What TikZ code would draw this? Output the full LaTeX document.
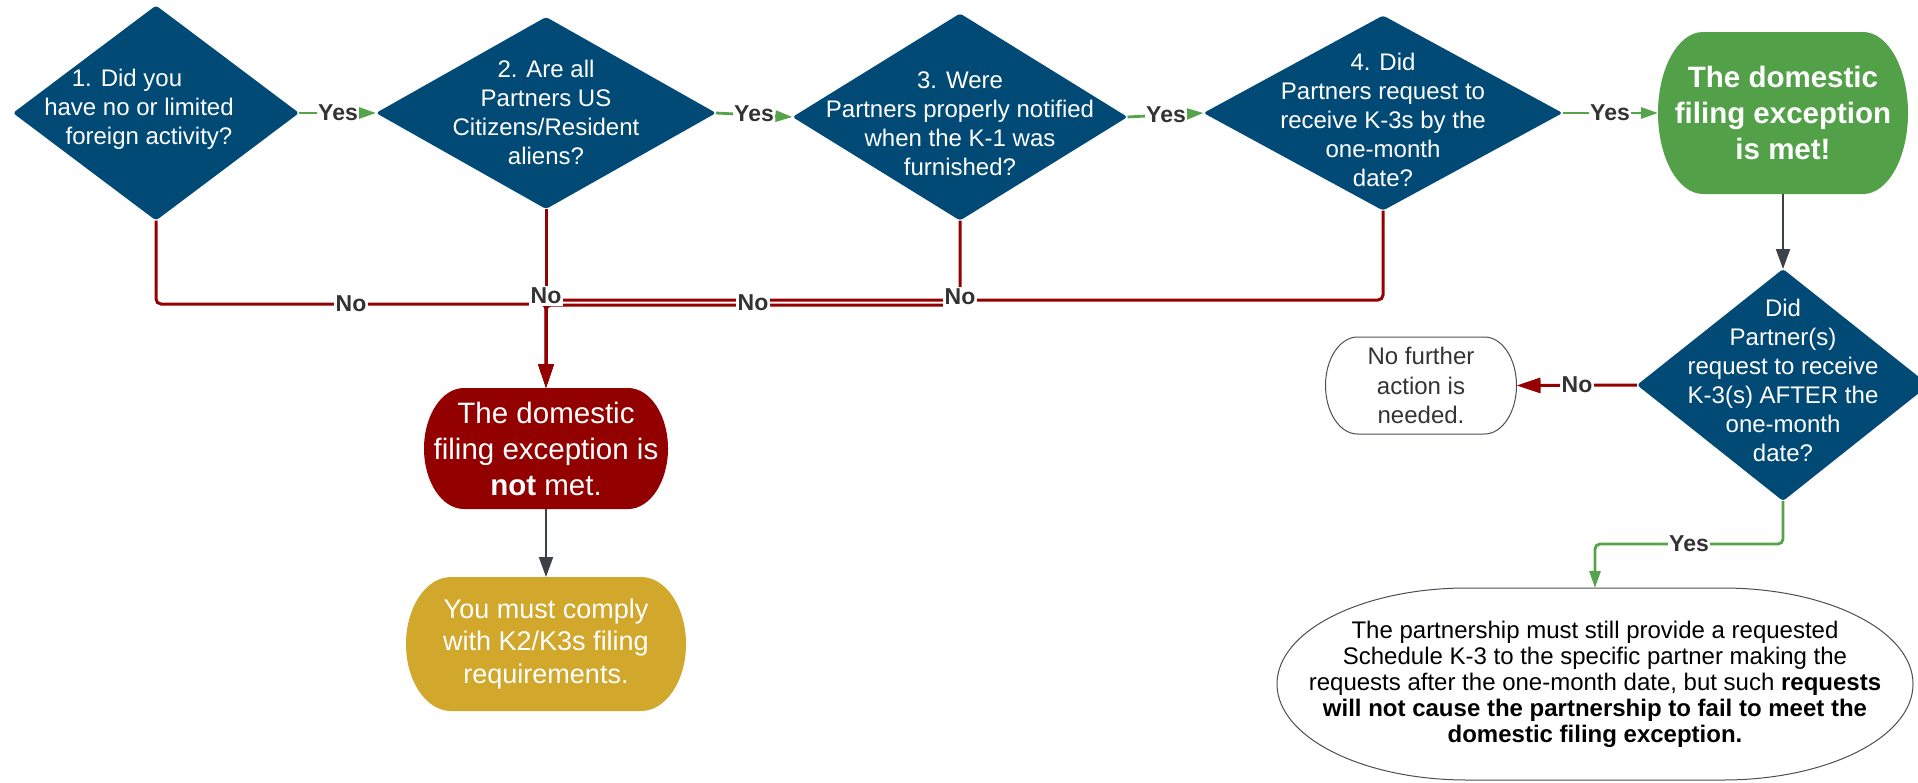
\documentclass[tikz,border=0pt]{standalone}
\usepackage{fontspec}
\setmainfont{Liberation Sans}
\usetikzlibrary{shapes.geometric,arrows.meta,backgrounds,calc}
\definecolor{qblue}{HTML}{024A76}
\definecolor{tgreen}{HTML}{52A047}
\definecolor{tred}{HTML}{930000}
\definecolor{tgold}{HTML}{D1A72C}
\definecolor{lgreen}{HTML}{55A34A}
\definecolor{lred}{HTML}{950000}
\definecolor{agrey}{HTML}{3B4049}
\definecolor{lblgrey}{HTML}{333333}
\definecolor{bgrey}{HTML}{4A4F55}
\newcommand{\termpath}[4]{%
  \path[#4] ($(#1.north west)+(#2,0)$) -- ($(#1.north east)-(#2,0)$)
    arc[start angle=90,end angle=-90,x radius=#2pt,y radius=#3pt]
    -- ($(#1.south west)+(#2,0)$)
    arc[start angle=270,end angle=90,x radius=#2pt,y radius=#3pt] -- cycle;}
\tikzset{
  dia/.style={diamond, fill=qblue, draw=none, inner sep=0pt, outer sep=0pt, rounded corners=3pt},
  dtext/.style={text=white, align=center, font=\fontsize{24}{29}\selectfont, inner sep=0pt},
  term/.style={inner sep=0pt, outer sep=0pt, align=center},
  lbl/.style={fill=white, text=lblgrey, font=\fontsize{23}{26}\selectfont\bfseries, inner sep=1.5pt},
  yesline/.style={draw=lgreen, line width=2.8pt, rounded corners=5pt, -{Triangle[length=17pt,width=11pt]}},
  noline/.style={draw=lred, line width=3pt, rounded corners=5pt, -{Triangle[length=24pt,width=15pt]}},
  greyline/.style={draw=agrey, line width=2pt, -{Triangle[length=20pt,width=14pt]}},
}
\begin{document}
\begin{tikzpicture}[x=1pt,y=-1pt]
\useasboundingbox (0,0) rectangle (1918,782);
% diamonds
\node[dia, minimum width=286pt, minimum height=215pt] (d1) at (156,113) {};
\node[dia, minimum width=340pt, minimum height=192pt] (d2) at (546,113) {};
\node[dia, minimum width=335pt, minimum height=207pt] (d3) at (960,117) {};
\node[dia, minimum width=359pt, minimum height=195pt] (d4) at (1383,113) {};
\node[dia, minimum width=292pt, minimum height=232pt] (d5) at (1783,385) {};
\node[dtext] (d1t) at (149,109) {1. Did you\rule{44pt}{0pt}\\have no or limited\rule{20pt}{0pt}\\foreign activity?};
\node[dtext] (d2t) at (546,112) {2. Are all\\Partners US\\Citizens/Resident\\aliens?};
\node[dtext] (d3t) at (960,124) {3. Were\\Partners properly notified\\when the K-1 was\\furnished?};
\node[dtext] (d4t) at (1383,120) {4. Did\\Partners request to\\receive K-3s by the\\one-month\\date?};
\node[dtext] (d5t) at (1783,380) {Did\\Partner(s)\\request to receive\\K-3(s) AFTER the\\one-month\\date?};
% terminals
\node[term, minimum width=250pt, minimum height=162pt, text=white, font=\fontsize{29.5}{36}\selectfont\bfseries] (g) at (1783,113) {The domestic\\filing exception\\is met!};
\node[term, minimum width=244pt, minimum height=121pt, text=white, font=\fontsize{29.5}{36}\selectfont] (r) at (546,448.5) {The domestic\\filing exception is\\\textbf{not} met.};
\node[term, minimum width=280pt, minimum height=134pt, text=white, font=\fontsize{27}{32.5}\selectfont] (y) at (546,644) {You must comply\\with K2/K3s filing\\requirements.};
\node[term, minimum width=191pt, minimum height=97pt, text=lblgrey, font=\fontsize{24}{29.5}\selectfont] (nf) at (1421,385.5) {No further\\action is\\needed.};
\node[term, minimum width=636pt, minimum height=192pt, text=black, font=\fontsize{24}{26}\selectfont] (b) at (1595,684) {The partnership must still provide a requested\\Schedule K-3 to the specific partner making the\\requests after the one-month date, but such \textbf{requests}\\\textbf{will not cause the partnership to fail to meet the}\\\textbf{domestic filing exception.}};
\begin{scope}[on background layer]
  \termpath{g}{45}{81}{fill=tgreen}
  \termpath{r}{40}{60.5}{fill=tred}
  \termpath{y}{45}{67}{fill=tgold}
  \termpath{nf}{32}{48.5}{fill=white, draw=bgrey, line width=1pt}
  \termpath{b}{190}{96}{fill=white, draw=bgrey, line width=1pt}
\end{scope}
% yes connectors
\draw[yesline] (d1.east) -- (d2.west);
\draw[yesline] (d2.east) -- (d3.west);
\draw[yesline] (d3.east) -- (d4.west);
\draw[yesline] (d4.east) -- (g.west);
\draw[yesline] (d5.south) -- (1783,544) -- (1595,544) -- (b.north);
% no connectors
\draw[noline] (d1.south) -- (156,304) -- (546,304) -- (r.north);
\draw[noline] (d3.south) -- (960,305) -- (546,305) -- (r.north);
\draw[noline] (d4.south) -- (1383,300) -- (546,300) -- (r.north);
\draw[noline] (d2.south) -- (r.north);
\draw[noline] (d5.west) -- (nf.east);
% grey connectors
\draw[greyline] (g.south) -- (d5.north);
\draw[greyline] (r.south) -- (y.north);
% labels
\node[lbl] (y1) at (338,113) {Yes};
\node[lbl] (y2) at (754,114) {Yes};
\node[lbl] (y3) at (1166,115) {Yes};
\node[lbl] (y4) at (1610,113) {Yes};
\node[lbl] (y5) at (1689,544) {Yes};
\node[lbl] (n1) at (351,304) {No};
\node[lbl] (n2) at (546,296) {No};
\node[lbl] (n3) at (753,303) {No};
\node[lbl] (n4) at (960,297) {No};
\node[lbl] (n5) at (1577,385) {No};
\end{tikzpicture}
\end{document}
